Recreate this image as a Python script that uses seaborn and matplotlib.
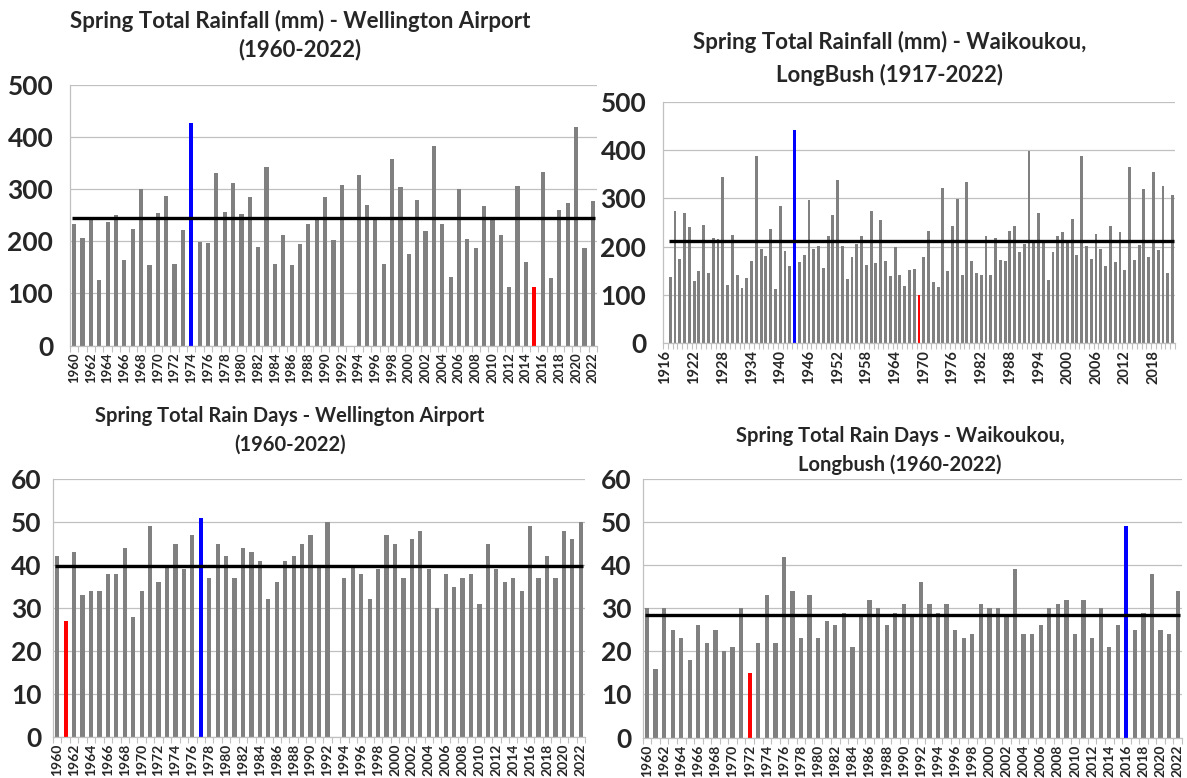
import numpy as np
import pandas as pd
import matplotlib
matplotlib.use("Agg")
import matplotlib.pyplot as plt
import seaborn as sns

nan = np.nan

# ---------------- data ----------------
wlg_years = list(range(1960, 2023))
wlg_rain = [233, 207, 240, 126, 238, 250, 164, 224, 301, 155,
            254, 287, 157, 221, 427, 198, 196, 332, 256, 312,
            252, 285, 190, 343, 157, 213, 155, 195, 233, 244,
            285, 202, 309, nan, 328, 269, 244, 156, 358, 305,
            176, 280, 219, 382, 233, 132, 300, 204, 187, 268,
            244, 212, 113, 306, 160, 113, 333, 130, 261, 273,
            419, 188, 277]
wlg_rain_mean = 245
wlg_rain_high, wlg_rain_low = 1974, 2015

wai_rain_years = list(range(1916, 2023))
wai_rain = [nan,
            137, 274, 174, 270, 241, 128, 149, 245, 146, 217,
            216, 345, 121, 224, 142, 114, 135, 170, 388, 196,
            180, 236, 113, 285, 191, 160, 441, 169,
            182, 296, 196, 201, 155, 221, 265, 338, 201, 132,
            178, 206, 223, 161, 274, 165, 255, 170, 139, 199,
            141, 119, 151, 154, 100, 178, 233, 126, 116, 322,
            149, 242, 299, 141, 334, 171, 145, 141, 223,
            142, 217, 173, 171, 232, 242, 189, 205, 399, 209,
            269, 207, 130, 188, 223, 230, 207, 257, 182, 389,
            202, 175, 227, 195, 159, 243, 169, 230, 151, 365,
            172, 203, 320, 178, 354, 193, 325, 145, 308]
wai_rain_mean = 211
wai_rain_high, wai_rain_low = 1943, 1969

wlg_days = [42, 27, 43, 33, 34, 34, 38, 38, 44, 28,
            34, 49, 36, 40, 45, 39, 47, 51, 37, 45,
            42, 37, 44, 43, 41, 32, 36, 41, 42, 45,
            47, 40, 50, nan, 37, 40, 38, 32, 39, 47,
            45, 37, 46, 48, 39, 30, 38, 35, 37, 38,
            31, 45, 39, 36, 37, 34, 49, 37, 42, 37,
            48, 46, 50]
wlg_days_mean = 39.8
wlg_days_high, wlg_days_low = 1977, 1961

wai_days = [30, 16, 30, 25, 23, 18, 26, 22, 25, 20,
            21, 30, 15, 22, 33, 22, 42, 34, 23, 33,
            23, 27, 26, 29, 21, 28, 32, 30, 26, 29,
            31, 28, 36, 31, 29, 31, 25, 23, 24, 31,
            30, 30, 28, 39, 24, 24, 26, 30, 31, 32,
            24, 32, 23, 30, 21, 26, 49, 25, 29, 38,
            25, 24, 34]
wai_days_mean = 28.5
wai_days_high, wai_days_low = 2016, 1972

titles = {
    "tl": ["Spring Total Rainfall (mm) - Wellington Airport", "(1960-2022)"],
    "tr": ["Spring Total Rainfall (mm) - Waikoukou,", "LongBush (1917-2022)"],
    "bl": ["Spring Total Rain Days - Wellington Airport", "(1960-2022)"],
    "br": ["Spring Total Rain Days - Waikoukou,", "Longbush (1960-2022)"],
}

# ---------------- style ----------------
sns.set_theme(style="white")
plt.rcParams['font.family'] = ['Lato', 'DejaVu Sans']

W, H = 1187, 778
fig = plt.figure(figsize=(W / 100, H / 100), dpi=100)
GRAY = "#808080"
GRID = "#c0c0c0"


def rect(left, right, top, bottom):
    return [left / W, 1 - bottom / H, (right - left) / W, (bottom - top) / H]


def panel(r, years, values, mean, hi, lo, ymax, ystep, tick_every, ypad,
          xfs, bw):
    ax = fig.add_axes(r)
    labels = [str(y) for y in years]
    df = pd.DataFrame({"year": labels, "value": values}).dropna()
    pal = {l: ("#0000ff" if y == hi else "#ff0000" if y == lo else GRAY)
           for l, y in zip(labels, years)}
    sns.barplot(data=df, x="year", y="value", hue="year", order=labels,
                hue_order=labels, palette=pal, width=bw, saturation=1,
                legend=False, ax=ax, dodge=False, linewidth=0)
    n = len(labels)
    valid = [i for i, v in enumerate(values) if not np.isnan(v)]
    ax.hlines(mean, valid[0] - 0.25, valid[-1] + 0.25, color="black",
              lw=2.4, zorder=4)
    ax.set_xlim(-0.5, n - 0.5)
    ax.set_ylim(0, ymax)
    ax.set_yticks(np.arange(0, ymax + 1, ystep))
    ax.yaxis.grid(True, color=GRID, lw=0.9)
    ax.set_axisbelow(True)
    for s in ["top", "right"]:
        ax.spines[s].set_visible(False)
    for s in ["left", "bottom"]:
        ax.spines[s].set_color(GRID)
        ax.spines[s].set_linewidth(0.9)
    ticks = list(range(0, n, tick_every))
    ax.set_xticks(ticks)
    ax.set_xticklabels([labels[i] for i in ticks], rotation=90,
                       fontsize=xfs, fontweight="bold")
    ax.set_xticks(np.arange(n + 1) - 0.5, minor=True)
    ax.tick_params(axis="x", which="major", length=0, pad=5)
    ax.tick_params(axis="x", which="minor", length=4, color=GRID, width=0.8,
                   bottom=True)
    ax.tick_params(axis="y", length=0, pad=ypad)
    for t in ax.get_yticklabels():
        t.set_fontsize(19)
        t.set_fontweight("bold")
    ax.set_xlabel("")
    ax.set_ylabel("")
    return ax


panel(rect(70, 597, 85, 345.5), wlg_years, wlg_rain, wlg_rain_mean,
      wlg_rain_high, wlg_rain_low, 500, 100, 2, 12, 9.5, 0.5)
panel(rect(663, 1175, 102, 343), wai_rain_years, wai_rain, wai_rain_mean,
      wai_rain_high, wai_rain_low, 500, 100, 6, 12, 10.5, 0.6)
panel(rect(53, 585, 479, 737), wlg_years, wlg_days, wlg_days_mean,
      wlg_days_high, wlg_days_low, 60, 10, 2, 8, 10, 0.5)
panel(rect(642.7, 1182, 479, 737.5), wlg_years, wai_days, wai_days_mean,
      wai_days_high, wai_days_low, 60, 10, 2, 8, 10, 0.5)


def title(lines, cx, ys, size):
    for line, y in zip(lines, ys):
        fig.text(cx / W, 1 - y / H, line, ha="center", va="center",
                 fontsize=size, fontweight="bold")


title(titles["tl"], 300, [21, 50], 16)
title(titles["tr"], 890, [42, 75], 16)
title(titles["bl"], 290, [416, 445], 14.5)
title(titles["br"], 900, [436, 465], 14.5)

fig.savefig("out.png", dpi=100)
